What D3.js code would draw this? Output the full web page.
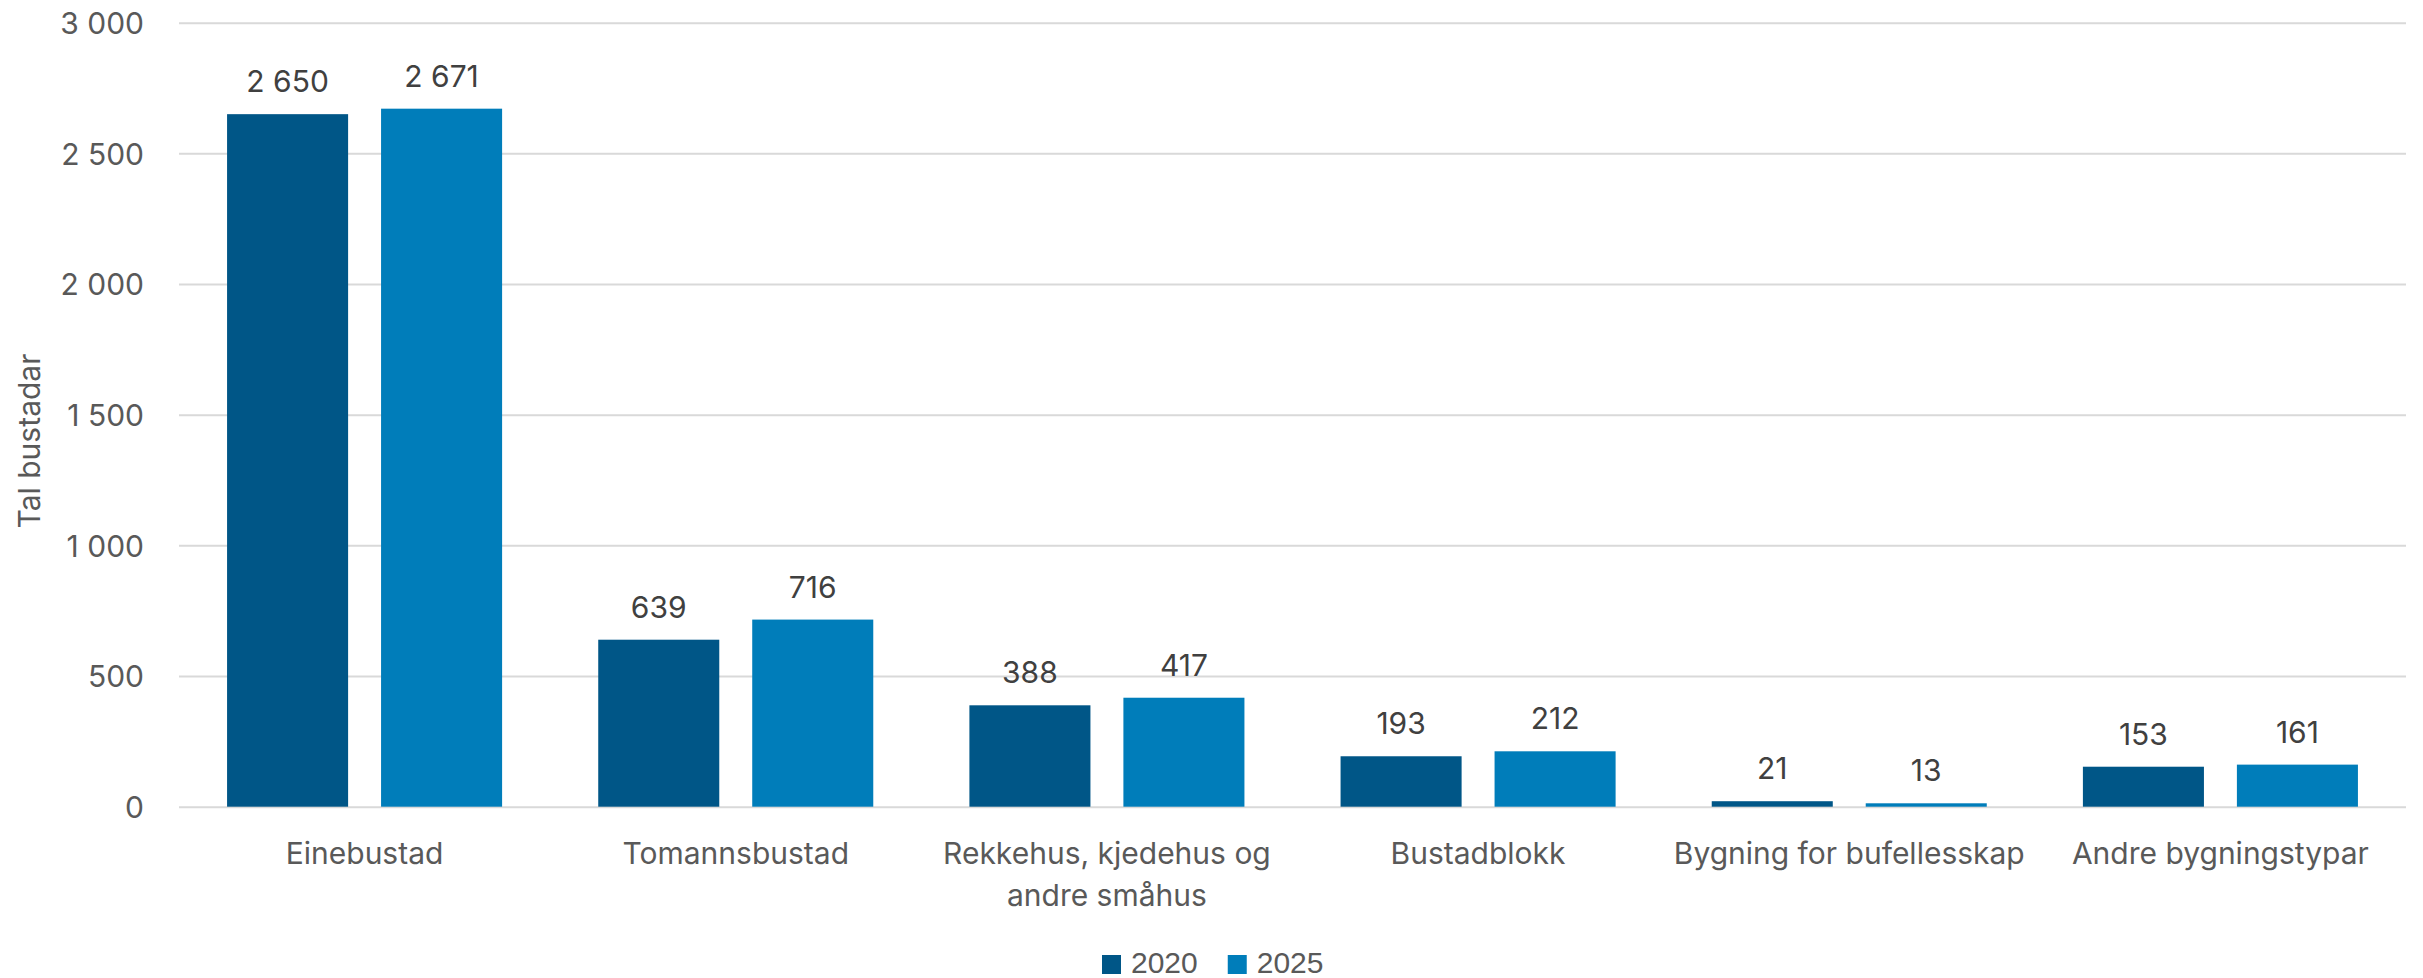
<!DOCTYPE html>
<html>
<head>
<meta charset="utf-8">
<script src="https://cdn.jsdelivr.net/npm/d3@7"></script>
<style>
  body { margin: 0; background: #fff; }
  svg text { font-family: Inter, "Open Sans", sans-serif; }
</style>
</head>
<body>
<svg id="chart" width="2423" height="978"></svg>
<script>
// bygningstypar og tal bustadar
var categories = ["Einebustad", "Tomannsbustad", "Rekkehus, kjedehus og andre småhus", "Bustadblokk", "Bygning for bufellesskap", "Andre bygningstypar"];
var series = ["2020", "2025"];
var values2020 = [2650, 639, 388, 193, 21, 153];
var values2025 = [2671, 716, 417, 212, 13, 161];
var yTicks = [0, 500, 1000, 1500, 2000, 2500, 3000];
var colors = ["#005687", "#007dba"];

var svg = d3.select("#chart");
var plotLeft = 179, plotRight = 2406, plotTop = 22.7, plotBottom = 806.7;

var fmt = function(v){ return d3.format(",")(v).replace(/,/g, " "); };

var y = d3.scaleLinear().domain([0, 3000]).range([plotBottom, plotTop]);
var x0 = d3.scaleBand().domain(categories).range([plotLeft, plotRight])
	.paddingInner(0.259).paddingOuter(0.1295);
var x1 = d3.scaleBand().domain(series).range([0, x0.bandwidth()]).paddingInner(0.214);

// grid + y labels
var yAxis = svg.append("g")
	.attr("transform", "translate(" + plotLeft + ",0)")
	.call(d3.axisLeft(y).tickValues(yTicks).tickSize(-(plotRight - plotLeft)).tickFormat(fmt));
yAxis.select(".domain").remove();
yAxis.selectAll(".tick line").attr("stroke", "#d9d9d9").attr("stroke-width", 2);
yAxis.selectAll(".tick text")
	.attr("x", -35)
	.attr("dy", "0.36em")
	.style("font-size", "30px")
	.style("fill", "#595959");

svg.append("text")
	.attr("transform", "translate(40,441) rotate(-90)")
	.attr("text-anchor", "middle")
	.style("font-size", "30px")
	.style("fill", "#595959")
	.text("Tal bustadar");

// bars
var rows = categories.map(function(c, i){ return { cat: c, vals: [values2020[i], values2025[i]] }; });
var groups = svg.append("g").selectAll("g")
	.data(rows)
	.enter().append("g")
	.attr("transform", function(d){ return "translate(" + x0(d.cat) + ",0)"; });

groups.selectAll("rect")
	.data(function(d){ return d.vals.map(function(v, k){ return { k: k, v: v }; }); })
	.enter().append("rect")
	.attr("x", function(d){ return x1(series[d.k]); })
	.attr("y", function(d){ return y(d.v); })
	.attr("width", x1.bandwidth())
	.attr("height", function(d){ return y(0) - y(d.v); })
	.style("fill", function(d){ return colors[d.k]; });

groups.selectAll("text.val")
	.data(function(d){ return d.vals.map(function(v, k){ return { k: k, v: v }; }); })
	.enter().append("text")
	.attr("class", "val")
	.attr("x", function(d){ return x1(series[d.k]) + x1.bandwidth() / 2; })
	.attr("y", function(d){ return y(d.v) - 22; })
	.attr("text-anchor", "middle")
	.style("font-size", "30px")
	.style("fill", "#404040")
	.text(function(d){ return fmt(d.v); });

// x labels, wrapped to the band step
var xl = svg.append("g");
categories.forEach(function(c){
	var cx = x0(c) + x0.bandwidth() / 2;
	var t = xl.append("text")
		.attr("x", cx)
		.attr("y", 864)
		.attr("text-anchor", "middle")
		.style("font-size", "30px")
		.style("fill", "#595959");
	var words = c.split(" "), line = [];
	var ts = t.append("tspan").attr("x", cx).attr("dy", 0);
	words.forEach(function(w){
		line.push(w);
		ts.text(line.join(" "));
		if (ts.node().getComputedTextLength() > x0.step() - 4 && line.length > 1) {
			line.pop();
			ts.text(line.join(" "));
			line = [w];
			ts = t.append("tspan").attr("x", cx).attr("dy", 42).text(w);
		}
	});
});

// legend
var leg = svg.append("g");
var lx = 1102;
series.forEach(function(s, k){
	leg.append("rect")
		.attr("x", lx).attr("y", 955)
		.attr("width", 19).attr("height", 19)
		.style("fill", colors[k]);
	var lt = leg.append("text")
		.attr("x", lx + 29).attr("y", 973)
		.style("font-size", "30px")
		.style("fill", "#595959")
		.style("font-family", "'Liberation Sans', Arial, sans-serif")
		.text(s);
	lx += 29 + lt.node().getComputedTextLength() + 30;
});
</script>
</body>
</html>
